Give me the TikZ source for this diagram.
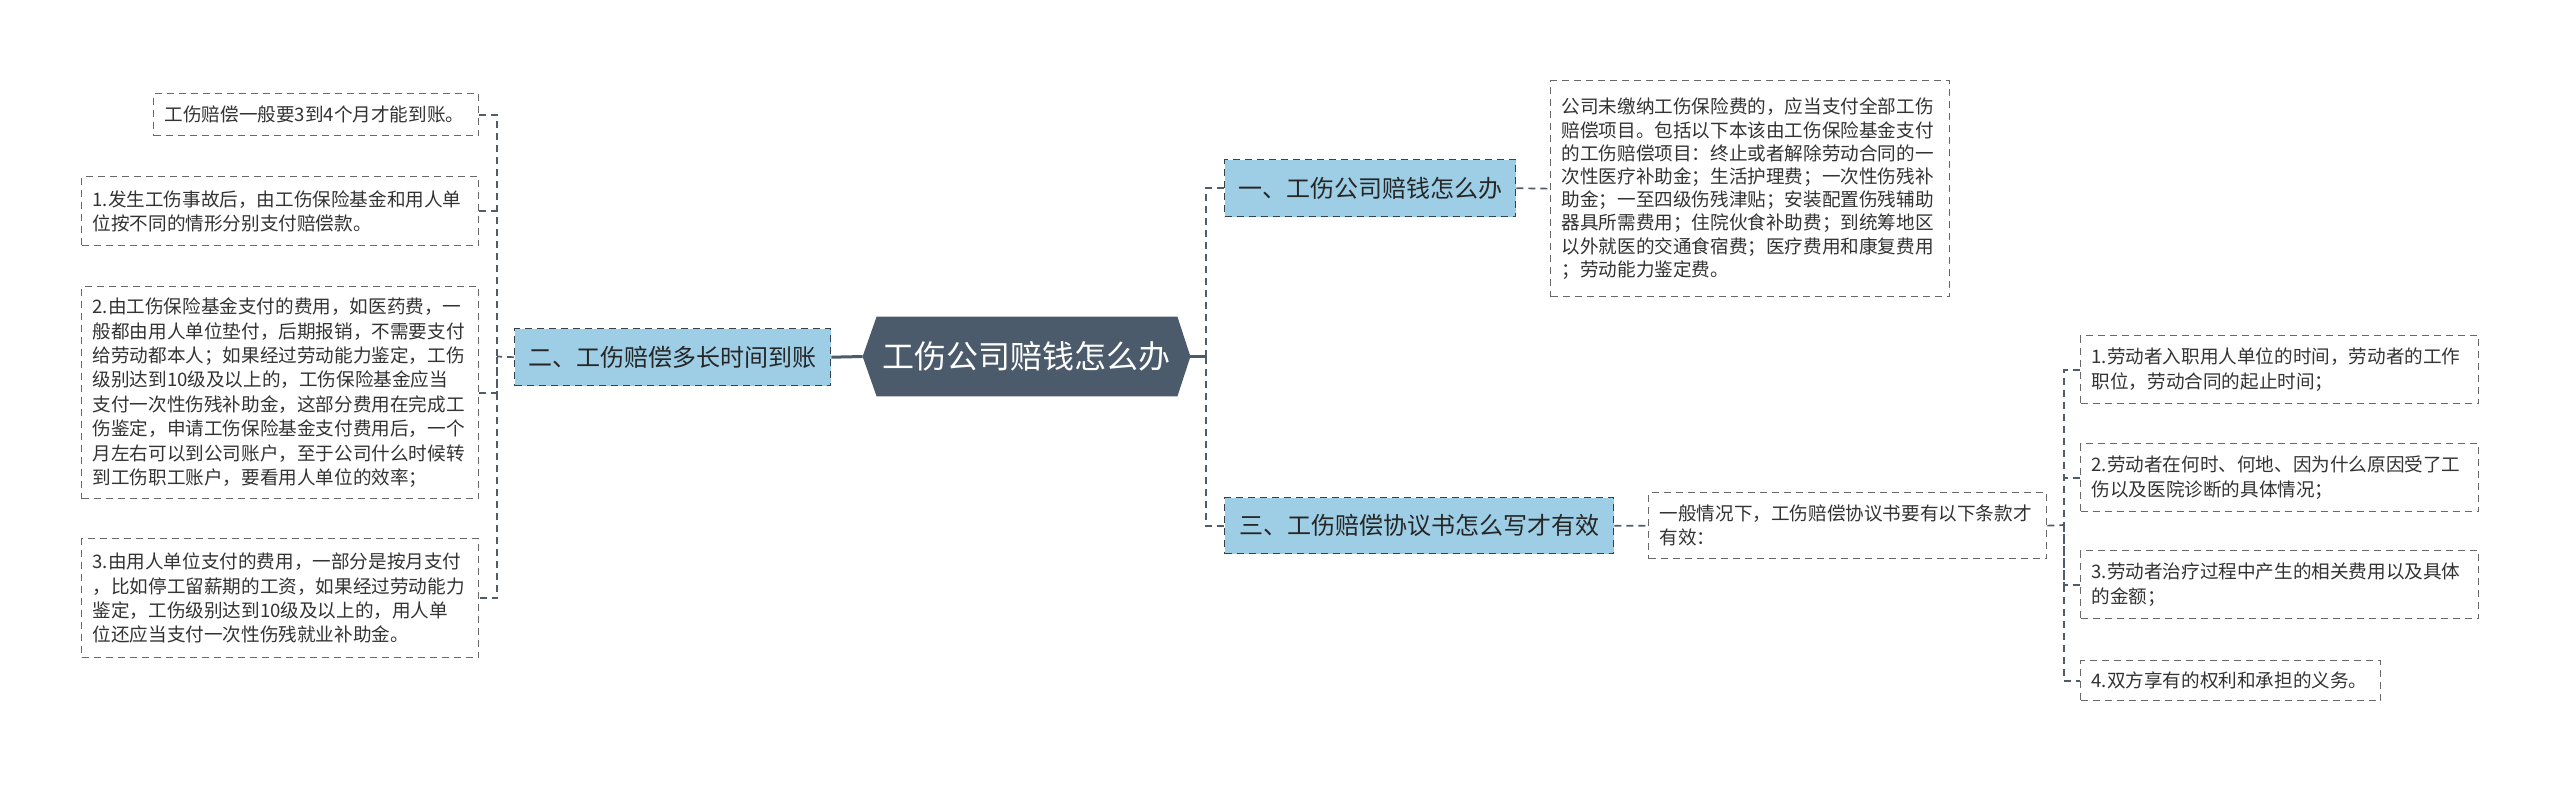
\documentclass[tikz,border=0pt]{standalone}
\usepackage{fontspec}
\setmainfont{Noto Sans CJK SC}
\usetikzlibrary{backgrounds}
\definecolor{hexc}{RGB}{75,91,107}
\definecolor{bluec}{RGB}{158,206,229}
\definecolor{bordc}{RGB}{52,66,80}
\definecolor{leafc}{RGB}{105,105,105}
\definecolor{txtc}{RGB}{51,51,51}
\definecolor{connc}{RGB}{80,92,104}
\tikzset{
  leaf/.style={draw=leafc, line width=0.65pt, dash pattern=on 3.5pt off 2.5pt,
    align=left, anchor=north west, inner xsep=5.5pt, inner ysep=0pt, text=txtc,
    font=\fontsize{9.3pt}{12.2pt}\selectfont},
  bluebox/.style={draw=bordc, fill=bluec, line width=0.7pt, dash pattern=on 3.5pt off 2.5pt,
    anchor=north west, inner sep=0pt, text=black!85, font=\fontsize{12pt}{14pt}\selectfont},
  hexnode/.style={inner sep=0pt, minimum width=163.5pt, minimum height=39.5pt,
    text=white, font=\fontsize{16pt}{19pt}\selectfont},
  conn/.style={draw=connc, line width=0.85pt, dash pattern=on 3.5pt off 2.5pt},
  solidconn/.style={draw=hexc, line width=1.5pt}
}
\begin{document}
\begin{tikzpicture}[x=0.5pt,y=-0.5pt]
\useasboundingbox (0,0) rectangle (2560,784);

% central node
\node[hexnode] (c) at (1026.5,356.5) {工伤公司赔钱怎么办};
\begin{scope}[on background layer]
\fill[white] (0,0) rectangle (2560,784);
\fill[hexc] (c.west) -- ([xshift=7pt]c.north west) -- ([xshift=-6.5pt]c.north east)
  -- (c.east) -- ([xshift=-6.5pt]c.south east) -- ([xshift=7pt]c.south west) -- cycle;
\end{scope}

% blue branch nodes
\node[bluebox, minimum width=158pt, minimum height=28.5pt] (n2) at (514,328) {二、工伤赔偿多长时间到账};
\node[bluebox, minimum width=145.5pt, minimum height=28.5pt] (n1) at (1224,159) {一、工伤公司赔钱怎么办};
\node[bluebox, minimum width=194.5pt, minimum height=28pt] (n3) at (1224,497) {三、工伤赔偿协议书怎么写才有效};

% left leaves
\node[leaf, text width=151.5pt, minimum height=21pt] (t0) at (153,93) {工伤赔偿一般要3到4个月才能到账。};
\node[leaf, text width=187.5pt, minimum height=34.5pt] (b1) at (81,176)
  {1.发生工伤事故后，由工伤保险基金和用人单\\位按不同的情形分别支付赔偿款。};
\node[leaf, text width=187.5pt, minimum height=106pt] (b2) at (81,286)
  {2.由工伤保险基金支付的费用，如医药费，一\\般都由用人单位垫付，后期报销，不需要支付\\给劳动都本人；如果经过劳动能力鉴定，工伤\\级别达到10级及以上的，工伤保险基金应当\\支付一次性伤残补助金，这部分费用在完成工\\伤鉴定，申请工伤保险基金支付费用后，一个\\月左右可以到公司账户，至于公司什么时候转\\到工伤职工账户，要看用人单位的效率；};
\node[leaf, text width=187.5pt, minimum height=59.5pt] (b3) at (81,538)
  {3.由用人单位支付的费用，一部分是按月支付\\，比如停工留薪期的工资，如果经过劳动能力\\鉴定，工伤级别达到10级及以上的，用人单\\位还应当支付一次性伤残就业补助金。};

% right top leaf
\node[leaf, text width=188.5pt, minimum height=108pt, font=\fontsize{9.3pt}{11.6pt}\selectfont] (rt) at (1550,80)
  {公司未缴纳工伤保险费的，应当支付全部工伤\\赔偿项目。包括以下本该由工伤保险基金支付\\的工伤赔偿项目：终止或者解除劳动合同的一\\次性医疗补助金；生活护理费；一次性伤残补\\助金；一至四级伤残津贴；安装配置伤残辅助\\器具所需费用；住院伙食补助费；到统筹地区\\以外就医的交通食宿费；医疗费用和康复费用\\；劳动能力鉴定费。};

% branch three leaves
\node[leaf, text width=188pt, minimum height=33pt] (g) at (1648,492)
  {一般情况下，工伤赔偿协议书要有以下条款才\\有效：};
\node[leaf, text width=188pt, minimum height=34pt] (r1) at (2080,335)
  {1.劳动者入职用人单位的时间，劳动者的工作\\职位，劳动合同的起止时间；};
\node[leaf, text width=188pt, minimum height=34pt] (r2) at (2080,443)
  {2.劳动者在何时、何地、因为什么原因受了工\\伤以及医院诊断的具体情况；};
\node[leaf, text width=188pt, minimum height=34pt] (r3) at (2080,550)
  {3.劳动者治疗过程中产生的相关费用以及具体\\的金额；};
\node[leaf, text width=139pt, minimum height=20pt] (r4) at (2080,660)
  {4.双方享有的权利和承担的义务。};

% junction coordinates
\coordinate (lj) at (497,356.5);
\coordinate (rj) at (1206,356.5);
\coordinate (gj) at (2064,525);

% connectors
\draw[solidconn] (n2.east) -- (c.west);
\draw[solidconn] (c.east) -- (rj);
\draw[conn] (n1.west) -| (rj);
\draw[conn] (rj) |- (n3.west);
\draw[conn] (n2.west) -- (lj);
\draw[conn] (t0.east) -| (lj);
\draw[conn] (lj) |- (b3.east);
\draw[conn] (b1.east) -| (lj);
\draw[conn] (b2.east) -| (lj);
\draw[conn] (n1.east) -- (rt.west);
\draw[conn] (n3.east) -- (g.west);
\draw[conn] (g.east) -- (gj);
\draw[conn] (r1.west) -| (gj);
\draw[conn] (gj) |- (r4.west);
\draw[conn] (r2.west) -| (gj);
\draw[conn] (r3.west) -| (gj);
\end{tikzpicture}
\end{document}
